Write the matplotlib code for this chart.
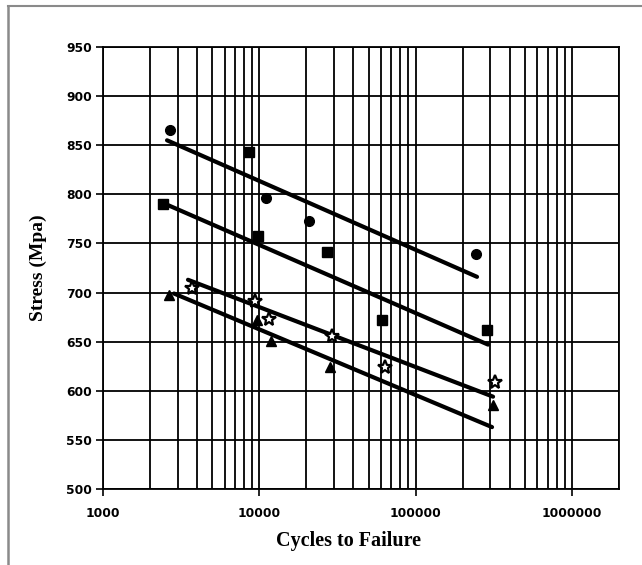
import numpy as np
import matplotlib
matplotlib.use("Agg")
from matplotlib import pyplot as plt
from matplotlib.lines import Line2D
from matplotlib.ticker import LogLocator, FixedLocator, NullFormatter

# Data
circle_n = [2683, 11040, 20800, 243400]
circle_s = [866, 796, 773, 739]
square_n = [2421, 8591, 9810, 27100, 60970, 286500]
square_s = [790, 843, 758, 741, 672, 662]
star_n = [3711, 9386, 11536, 29180, 63700, 322100]
star_s = [705, 691, 673, 656, 624, 609]
tri_n = [2645, 9661, 11882, 28320, 312800]
tri_s = [698, 672, 651, 624, 586]

# Fitted trend lines (end points)
circle_fit_n = [2568, 247000]
circle_fit_s = [855, 716]
square_fit_n = [2606, 290600]
square_fit_s = [789, 647]
star_fit_n = [3498, 312800]
star_fit_s = [713, 594]
tri_fit_n = [2847, 308200]
tri_fit_s = [699, 563]

y_ticks = list(range(500, 951, 50))
x_ticks = [1000, 10000, 100000, 1000000]
x_labels = ['1000', '10000', '100000', '1000000']

fig = plt.figure(figsize=(6.42, 5.65), dpi=100)
ax = fig.add_axes([103 / 642, 1 - 489 / 565, 516 / 642, 442 / 565])

# grey frame around the picture (top and left only)
fig.add_artist(Line2D([8 / 642, 1], [1 - 6 / 565, 1 - 6 / 565], color='#8a8a8a', lw=1.5))
fig.add_artist(Line2D([8 / 642, 8 / 642], [0, 1 - 6 / 565], color='#8a8a8a', lw=1.8))

ax.set_xscale('log')
ax.set_xlim(1000, 2000000)
ax.set_ylim(500, 950)

# grid
ax.xaxis.set_major_locator(FixedLocator(x_ticks))
ax.xaxis.set_minor_locator(LogLocator(base=10, subs=np.arange(2, 10), numticks=20))
ax.xaxis.set_minor_formatter(NullFormatter())
ax.yaxis.set_major_locator(FixedLocator(y_ticks))
ax.grid(True, which='both', axis='x', color='black', lw=1.3)
ax.grid(True, which='major', axis='y', color='black', lw=1.3)
ax.set_axisbelow(True)

ax.set_xticks(x_ticks)
ax.set_xticklabels(x_labels)
ax.tick_params(axis='x', which='major', length=5, width=1.2, pad=8, direction='out')
ax.tick_params(axis='x', which='minor', length=0)
ax.tick_params(axis='y', length=5, width=1.2, pad=3, direction='out')
for lab in ax.get_xticklabels() + ax.get_yticklabels():
    lab.set_fontfamily('DejaVu Sans')
    lab.set_fontweight('bold')
    lab.set_fontsize(8.8)

for sp in ax.spines.values():
    sp.set_color('black')
    sp.set_linewidth(1.3)

# trend lines
for fn, fs in [(circle_fit_n, circle_fit_s), (square_fit_n, square_fit_s),
               (star_fit_n, star_fit_s), (tri_fit_n, tri_fit_s)]:
    ax.plot(fn, fs, color='black', lw=3.0, solid_capstyle='round', zorder=3)

# data points
ax.plot(circle_n, circle_s, 'o', color='black', ms=7, ls='none', zorder=4)
ax.plot(square_n, square_s, 's', color='black', ms=6.5, ls='none', zorder=4)
ax.plot(star_n, star_s, '*', color='white', mec='black', mew=1.6, ms=10, ls='none', zorder=4)
ax.plot(tri_n, tri_s, '^', color='black', ms=6.5, ls='none', zorder=4)

ax.set_ylabel('Stress (Mpa)', fontfamily='Liberation Serif', fontweight='bold',
              fontsize=14, labelpad=14)
ax.set_xlabel('Cycles to Failure', fontfamily='Liberation Serif', fontweight='bold',
              fontsize=14.5, labelpad=10)
ax.xaxis.set_label_coords(0.475, -0.095)

fig.savefig('out.png', dpi=100)
